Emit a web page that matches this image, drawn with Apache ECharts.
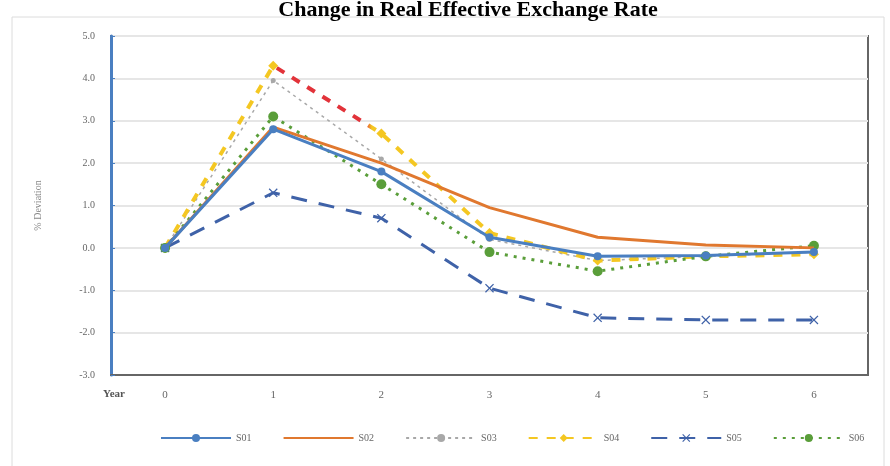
<!DOCTYPE html>
<html>
<head>
<meta charset="utf-8">
<script src="https://cdn.jsdelivr.net/npm/echarts@6/dist/echarts.min.js"></script>
<style>html,body{margin:0;padding:0;background:#fff;}#c{width:890px;height:466px;}</style>
</head>
<body>
<div id="c"></div>
<script>
const years = ['0', '1', '2', '3', '4', '5', '6'];
const seriesNames = ['S01', 'S02', 'S03', 'S04', 'S05', 'S06'];
const s01 = [0, 2.8, 1.8, 0.25, -0.2, -0.18, -0.1];
const s02 = [0, 2.85, 2.0, 0.95, 0.25, 0.07, 0.0];
const s03 = [0, 3.95, 2.1, 0.2, -0.3, -0.2, -0.1];
const s04 = [0, 4.3, 2.7, 0.35, -0.3, -0.2, -0.15];
const s05 = [0, 1.3, 0.7, -0.95, -1.65, -1.7, -1.7];
const s06 = [0, 3.1, 1.5, -0.1, -0.55, -0.2, 0.05];

const chart = echarts.init(document.getElementById('c'), null, {renderer: 'canvas'});
const serif = '"Liberation Serif", "DejaVu Serif", serif';
const xPath = 'path://M0,1L1,0L5,4L9,0L10,1L6,5L10,9L9,10L5,6L1,10L0,9L4,5Z';
const s04Grad = {type: 'linear', x: 0, y: 0, x2: 1, y2: 0, colorStops: [
  {offset: 0, color: '#f4c722'}, {offset: 0.17, color: '#f4c722'},
  {offset: 0.175, color: '#e2333a'}, {offset: 0.31, color: '#e2333a'},
  {offset: 0.32, color: '#f4c722'}, {offset: 1, color: '#f4c722'}]};

chart.setOption({
  animation: false,
  title: {text: 'Change in Real Effective Exchange Rate', left: 463, textAlign: 'center', top: -6,
    textStyle: {fontFamily: serif, fontWeight: 'bold', fontSize: 22, color: '#000'}},
  graphic: [
    {type: 'rect', shape: {x: 12, y: 17, width: 872, height: 460}, style: {fill: 'none', stroke: '#dcdcdc', lineWidth: 1}, z: -10},
    {type: 'text', left: 103, top: 389, style: {text: 'Year', font: 'bold 11px ' + serif, fill: '#555'}}
  ],
  grid: {left: 111, top: 36, right: 22, bottom: 91, show: true, borderColor: '#666', borderWidth: 2},
  legend: {
    left: 155, top: 428, itemWidth: 70, itemHeight: 10, itemGap: 31,
    textStyle: {fontFamily: serif, fontSize: 10, color: '#666'},
    data: [
      {name: 'S01'},
      {name: 'S02', itemStyle: {opacity: 0}},
      {name: 'S03'},
      {name: 'S04', lineStyle: {color: '#f4c722'}},
      {name: 'S05'}, {name: 'S06'}
    ]
  },
  xAxis: {
    type: 'category', data: years, boundaryGap: true,
    axisLine: {onZero: false, lineStyle: {color: '#666', width: 2}},
    axisTick: {show: false},
    axisLabel: {fontFamily: serif, fontSize: 11, color: '#666', margin: 15}
  },
  yAxis: {
    type: 'value', min: -3, max: 5, interval: 1,
    name: '% Deviation', nameLocation: 'middle', nameGap: 68, nameRotate: 90,
    nameTextStyle: {fontFamily: serif, fontSize: 10, color: '#888'},
    axisLine: {show: true, lineStyle: {color: '#4a7fc1', width: 3}},
    axisTick: {show: true, inside: true, length: 4, lineStyle: {color: '#4a7fc1'}},
    axisLabel: {fontFamily: serif, fontSize: 10, color: '#666', margin: 16,
      formatter: v => v.toFixed(1)},
    splitLine: {lineStyle: {color: '#e6e6e6', width: 2}}
  },
  series: [
    {name: 'S01', type: 'line', data: s01, symbol: 'circle', symbolSize: 8,
      lineStyle: {color: '#4a7fc1', width: 3}, itemStyle: {color: '#4a7fc1'}, z: 5},
    {name: 'S02', type: 'line', data: s02, symbol: 'none',
      lineStyle: {color: '#e0782f', width: 3}, itemStyle: {color: '#e0782f'}, z: 4},
    {name: 'S03', type: 'line', data: s03, symbol: 'circle', symbolSize: 5,
      lineStyle: {color: '#a8a8a8', width: 1.5, type: [3, 4]}, itemStyle: {color: '#a8a8a8'}, z: 3},
    {name: 'S04', type: 'line', data: s04, symbol: 'diamond', symbolSize: 10,
      lineStyle: {color: s04Grad, width: 4, type: [9, 9]}, itemStyle: {color: '#f4c722'}, z: 3},
    {name: 'S05', type: 'line', data: s05, symbol: xPath, symbolSize: 9,
      lineStyle: {color: '#3f62a8', width: 3, type: [16, 12]}, itemStyle: {color: '#3f62a8'}, z: 3},
    {name: 'S06', type: 'line', data: s06, symbol: 'circle', symbolSize: 10,
      lineStyle: {color: '#5a9e3a', width: 3, type: [3, 6]}, itemStyle: {color: '#5a9e3a'}, z: 3}
  ]
});
</script>
</body>
</html>
